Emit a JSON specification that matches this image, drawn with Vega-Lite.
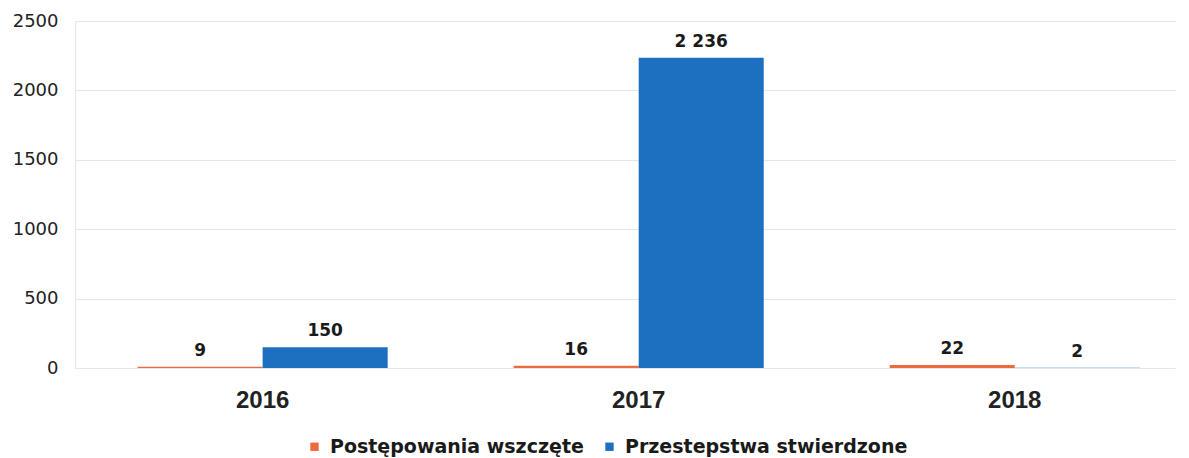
{
  "$schema": "https://vega.github.io/schema/vega-lite/v6.json",
  "autosize": "none",
  "width": 1100,
  "height": 347,
  "padding": {"left": 75, "top": 21, "right": 14, "bottom": 90},
  "background": "white",
  "config": {
    "font": "Liberation Sans",
    "view": {"stroke": null},
    "locale": {"number": {"decimal": ",", "thousands": " ", "grouping": [3], "currency": ["", " zł"]}}
  },
  "data": {
    "values": [
      {"rok": "2016", "seria": "Postępowania wszczęte", "wartosc": 9},
      {"rok": "2016", "seria": "Przestepstwa stwierdzone", "wartosc": 150},
      {"rok": "2017", "seria": "Postępowania wszczęte", "wartosc": 16},
      {"rok": "2017", "seria": "Przestepstwa stwierdzone", "wartosc": 2236},
      {"rok": "2018", "seria": "Postępowania wszczęte", "wartosc": 22},
      {"rok": "2018", "seria": "Przestepstwa stwierdzone", "wartosc": 2}
    ]
  },
  "encoding": {
    "x": {
      "field": "rok", "type": "nominal",
      "scale": {"paddingInner": 0.335, "paddingOuter": 0.13, "align": 0.64},
      "axis": {
        "title": null, "labelAngle": 0, "labelFontSize": 24, "labelFontWeight": "bold",
        "labelColor": "#222", "ticks": false, "domain": false, "labelPadding": 20
      }
    },
    "xOffset": {"field": "seria", "type": "nominal"},
    "y": {
      "field": "wartosc", "type": "quantitative",
      "scale": {"domain": [0, 2500]},
      "axis": {
        "title": null, "values": [0, 500, 1000, 1500, 2000, 2500], "format": "d",
        "labelFont": "DejaVu Sans", "labelFontSize": 18, "labelFontWeight": 500, "labelColor": "#222", "ticks": false, "labelPadding": 17,
        "domainColor": "#e6e6e6", "gridColor": "#e6e6e6", "gridWidth": 1.2
      }
    }
  },
  "layer": [
    {
      "mark": {"type": "bar"},
      "encoding": {
        "color": {
          "field": "seria", "type": "nominal",
          "scale": {"domain": ["Postępowania wszczęte", "Przestepstwa stwierdzone"], "range": ["#ec6a3e", "#1d6fbf"]},
          "legend": {
            "title": null, "orient": "none", "direction": "horizontal",
            "legendX": 230, "legendY": 416, "symbolType": "square", "symbolSize": 70,
            "labelFont": "DejaVu Sans", "labelFontSize": 19, "labelFontWeight": "bold", "labelColor": "#1a1a1a",
            "labelLimit": 400, "columnPadding": 16, "labelOffset": 6
          }
        }
      }
    },
    {
      "mark": {"type": "text", "baseline": "bottom", "dy": -7, "font": "DejaVu Sans", "fontSize": 17, "fontWeight": "bold", "color": "#1a1a1a"},
      "encoding": {
        "text": {"field": "wartosc", "type": "quantitative", "format": ",d"}
      }
    }
  ]
}
